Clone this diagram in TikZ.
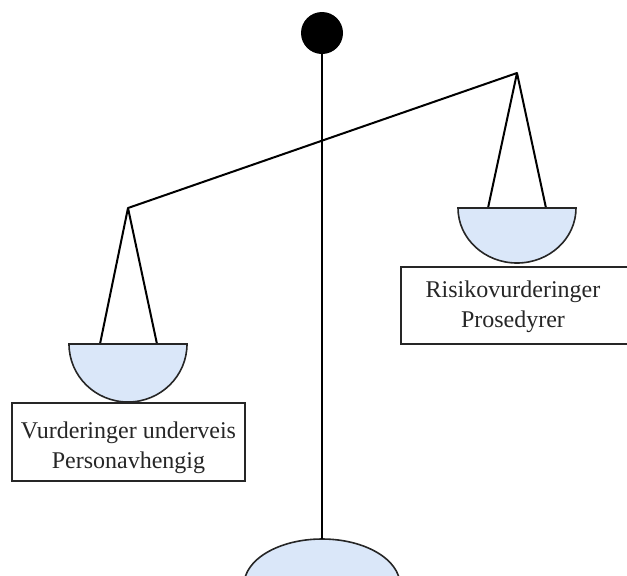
\documentclass[tikz,border=0pt]{standalone}
\usepackage{fontspec}
\setmainfont{Liberation Serif}
\definecolor{panfill}{RGB}{218,231,249}
\begin{document}
\begin{tikzpicture}[x=0.5pt,y=-0.5pt,
  rod/.style={line width=1pt, draw=black, line join=round},
  pan/.style={line width=0.8pt, draw=black!85, fill=panfill},
  box/.style={draw=black!85, line width=0.8pt, inner sep=0pt},
  txt/.style={font=\fontsize{12}{15}\selectfont, align=center, inner sep=0pt, text=black!85}]
\useasboundingbox (0,0) rectangle (627,575);
\clip (0,0) rectangle (627,575);

% stand: foot, pole and pivot
\node[circle, fill=black, minimum size=21pt, inner sep=0pt] (pivot) at (322,33) {};
\coordinate (foot) at (322,539);
\draw[pan] (322,585) ellipse [x radius=39pt, y radius=23pt];
\draw[rod] (pivot) -- (foot);

% beam
\coordinate (hookL) at (128,208);
\coordinate (hookR) at (517,73);
\draw[rod] (hookL) -- (hookR);

% left pan
\coordinate (rimLa) at (100,344);
\coordinate (rimLb) at (157,344);
\draw[rod] (rimLa) -- (hookL) -- (rimLb);
\draw[pan] (69,344) -- (187,344) arc[start angle=0, end angle=-180, x radius=29.5pt, y radius=29pt] -- cycle;

% right pan
\coordinate (rimRa) at (488,208);
\coordinate (rimRb) at (546,208);
\draw[rod] (rimRa) -- (hookR) -- (rimRb);
\draw[pan] (458,208) -- (576,208) arc[start angle=0, end angle=-180, x radius=29.5pt, y radius=27.5pt] -- cycle;

% labels
\node[box, minimum width=116.5pt, minimum height=39pt] (boxL) at (128.5,442) {};
\node[txt] (txtL) at (128.5,448) {Vurderinger underveis\\Personavhengig};
\node[box, minimum width=119.5pt, minimum height=38.5pt] (boxR) at (520.5,305.5) {};
\node[txt] (txtR) at (513,307) {Risikovurderinger\\Prosedyrer};
\end{tikzpicture}
\end{document}
